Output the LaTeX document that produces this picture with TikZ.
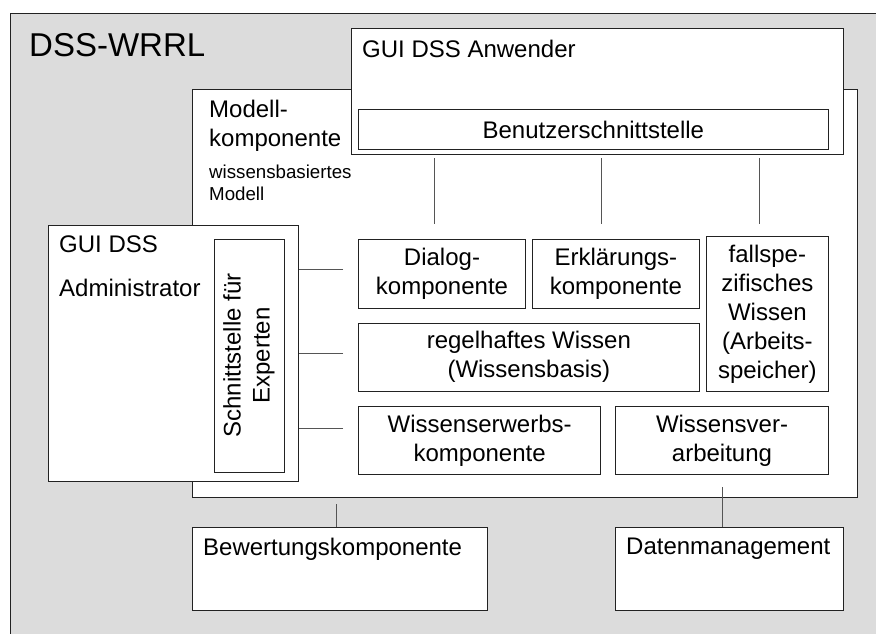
\documentclass[tikz,border=0pt]{standalone}
\usepackage{fontspec}
\setmainfont{Liberation Sans}
\usetikzlibrary{calc, positioning}
\definecolor{dssgray}{HTML}{DCDCDC}
\definecolor{dssline}{HTML}{222222}
\definecolor{dsslink}{HTML}{555555}
\newcommand{\fsTitle}{\fontsize{33}{40}\selectfont}
\newcommand{\fsNorm}{\fontsize{24}{29}\selectfont}
\newcommand{\fsSmall}{\fontsize{18.7}{22}\selectfont}
\tikzset{
  frame/.style = {draw=dssline, line width=1pt, fill=white, inner sep=0pt},
  comp/.style  = {frame, anchor=north west, align=center, font=\fsNorm},
  lbl/.style   = {anchor=north west, inner sep=0pt, align=left, font=\fsNorm},
  link/.style  = {draw=dsslink, line width=1pt},
}
\begin{document}
\begin{tikzpicture}[x=1pt, y=-1pt]
\useasboundingbox (0,0) rectangle (876,633);
\fill[white] (0,0) rectangle (876,633);
\clip (0,0) rectangle (876,633);

% DSS-WRRL
\draw[draw=dssline, line width=1pt, fill=dssgray] (10,13) rectangle (900,660);
\node[lbl, font=\fsTitle] (title) at (29,33.4) {DSS-WRRL};

% Modellkomponente
\node[frame, anchor=north west, minimum width=665pt, minimum height=408pt] (mod) at (192,88.7) {};
\node[lbl] (modt) at (209,100) {Modell-\\komponente};
\node[lbl, font=\fsSmall] (wbm) at (209,164.5) {wissensbasiertes\\Modell};

% GUI DSS Anwender
\node[frame, anchor=north west, minimum width=491.7pt, minimum height=126pt] (anw) at (351,28) {};
\node[lbl] (anwt) at (362,39.5) {GUI DSS Anwender};
\node[comp, minimum width=469.7pt, minimum height=40pt] (bsst) at (358,109) {Benutzerschnittstelle};

% GUI DSS Administrator
\node[frame, anchor=north west, minimum width=250pt, minimum height=256pt] (admin) at (48,225) {};
\node[lbl] (admint) at (59,235.5) {GUI DSS\\[15pt]Administrator};
\node[frame, rotate=90, align=center, font=\fsNorm, minimum width=233pt, minimum height=70pt]
  (expert) at (249,355.5) {Schnittstelle für\\Experten};

% Komponenten
\node[comp, minimum width=167pt,   minimum height=69pt]    (dialog) at (358,239)   {Dialog-\\komponente};
\node[comp, minimum width=166.7pt, minimum height=69pt]    (erkl)   at (532,239)   {Erklärungs-\\komponente};
\node[comp, minimum width=121.7pt, minimum height=154.7pt] (fall)   at (706,236)   {fallspe-\\zifisches\\Wissen\\(Arbeits-\\speicher)};
\node[comp, minimum width=340.7pt, minimum height=68pt]    (regel)  at (358,322.7) {regelhaftes Wissen\\(Wissensbasis)};
\node[comp, minimum width=242.3pt, minimum height=68pt]    (erwerb) at (358,406)   {Wissenserwerbs-\\komponente};
\node[comp, minimum width=212.4pt, minimum height=68pt]    (verarb) at (615.3,406) {Wissensver-\\arbeitung};

% Bewertung und Daten
\node[frame, anchor=north west, minimum width=295pt,   minimum height=83pt] (bew)   at (192,527) {};
\node[lbl] (bewt) at (203,537.5) {Bewertungskomponente};
\node[frame, anchor=north west, minimum width=227.7pt, minimum height=83pt] (daten) at (615,527) {};
\node[lbl] (datent) at (626,537.5) {Datenmanagement};

% Verbindungen
\foreach \n/\dx/\dy in {dialog/-7.5/-15, erkl/-14.6/-15, fall/-7.9/-12}
  \draw[link] ($(\n.north |- anw.south)+(\dx,3)$) -- ($(\n.north)+(\dx,\dy)$);
\foreach \n/\dy in {dialog/-4.5, regel/-4, erwerb/-12}{
  \coordinate (h\n) at ($(\n.west)+(-15,\dy)$);
  \draw[link] (h\n) -- (h\n -| admin.east);
}
\draw[link] ($(bew.north)+(-3.8,0)$) -- ++(0,-23);
\draw[link] ($(verarb.south)+(0,12)$) -- (verarb.south |- daten.north);

\end{tikzpicture}
\end{document}
